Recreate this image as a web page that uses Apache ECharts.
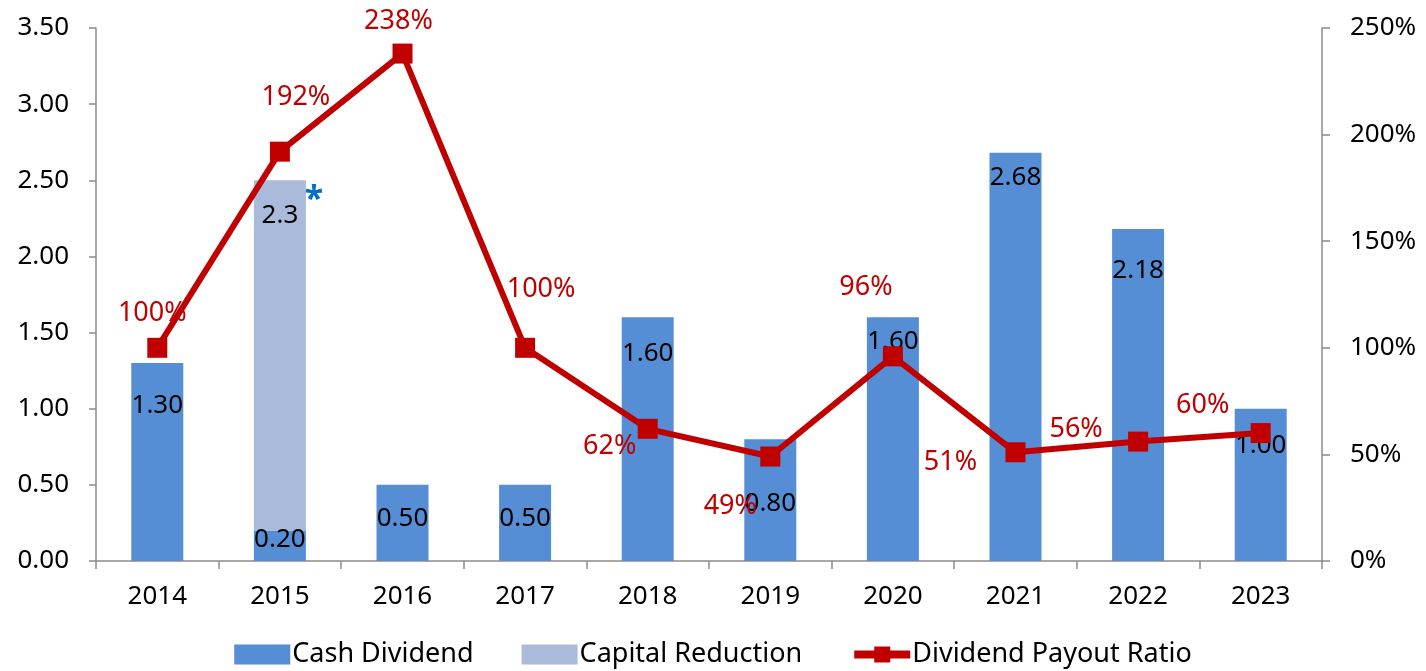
<!DOCTYPE html>
<html>
<head>
<meta charset="utf-8">
<script src="https://cdn.jsdelivr.net/npm/echarts@6/dist/echarts.min.js"></script>
<style>
  html, body { margin: 0; padding: 0; background: #fff; }
  #chart { width: 1426px; height: 671px; }
</style>
</head>
<body>
<div id="chart"></div>
<script>
const years = ["2014", "2015", "2016", "2017", "2018", "2019", "2020", "2021", "2022", "2023"];
const cashDividend = [1.30, 0.20, 0.50, 0.50, 1.60, 0.80, 1.60, 2.68, 2.18, 1.00];
const capitalReduction = [null, 2.3, null, null, null, null, null, null, null, null];
const payoutRatio = [100, 192, 238, 100, 62, 49, 96, 51, 56, 60];

// how far below the bar top each value label sits (px)
const barLabelDrop = [43, 9, 34, 34, 36, 64, 24, 25, 42, 37];
// where each ratio label sits relative to its marker (px)
const ratioLabelOffset = [[-5, -34], [16, -54], [-4, -32], [16, -58], [-38, 17],
  [-40, 50], [-27, -69], [-65, 10], [-62, -12], [-58, -28]];

const font = "'Noto Sans', 'DejaVu Sans', sans-serif";
const axisGrey = "#8c8c8c";
const red = "#C00000";

const chart = echarts.init(document.getElementById("chart"));

const option = {
  animation: false,
  textStyle: { fontFamily: font },
  grid: { left: 96, right: 104, top: 28, bottom: 110, containLabel: false },
  legend: {
    top: 636,
    left: "center",
    itemWidth: 56,
    itemHeight: 20,
    itemGap: 48,
    textStyle: { fontSize: 27, color: "#000", fontFamily: font, padding: [0, 0, 0, -3] },
    data: [
      { name: "Cash Dividend", icon: "rect" },
      { name: "Capital Reduction", icon: "rect" },
      { name: "Dividend Payout Ratio", lineStyle: { width: 8 } }
    ]
  },
  xAxis: {
    type: "category",
    data: years,
    axisLine: { lineStyle: { color: axisGrey, width: 1.5 } },
    axisTick: { show: true, inside: false, length: 8, lineStyle: { color: axisGrey, width: 1.5 } },
    axisLabel: { fontSize: 26, color: "#000", margin: 23 },
    splitLine: { show: false }
  },
  yAxis: [
    {
      type: "value",
      min: 0,
      max: 3.5,
      interval: 0.5,
      axisLine: { show: true, lineStyle: { color: axisGrey, width: 1.5 } },
      axisTick: { show: true, length: 7, lineStyle: { color: axisGrey, width: 1.5 } },
      axisLabel: { fontSize: 26, color: "#000", margin: 27, formatter: (v) => v.toFixed(2) },
      splitLine: { show: false }
    },
    {
      type: "value",
      min: 0,
      max: 250,
      interval: 50,
      position: "right",
      axisLine: { show: true, lineStyle: { color: axisGrey, width: 1.5 } },
      axisTick: { show: true, length: 8, lineStyle: { color: axisGrey, width: 1.5 } },
      axisLabel: { fontSize: 26, color: "#000", margin: 28, formatter: "{value}%" },
      splitLine: { show: false }
    }
  ],
  series: [
    {
      name: "Cash Dividend",
      type: "bar",
      stack: "div",
      barWidth: 52,
      itemStyle: { color: "#558ED5" },
      data: cashDividend.map((v, i) => ({
        value: v,
        label: {
          show: true,
          position: ["50%", barLabelDrop[i]],
          align: "center",
          verticalAlign: "middle",
          fontSize: 26,
          color: "#000",
          formatter: (p) => p.value.toFixed(2)
        }
      }))
    },
    {
      name: "Capital Reduction",
      type: "bar",
      stack: "div",
      barWidth: 52,
      itemStyle: { color: "#A9BADB" },
      data: capitalReduction.map((v, i) => ({
        value: v,
        label: {
          show: v != null,
          position: ["50%", 35],
          align: "center",
          verticalAlign: "middle",
          fontSize: 26,
          color: "#000",
          formatter: (p) => String(p.value)
        }
      })),
      markPoint: {
        symbol: "circle",
        symbolSize: 0,
        silent: true,
        data: [{ coord: [1, 2.5], value: "*" }],
        label: {
          show: true,
          formatter: "*",
          fontSize: 34,
          fontWeight: "bold",
          color: "#0070C0",
          offset: [34, 20]
        }
      }
    },
    {
      name: "Dividend Payout Ratio",
      type: "line",
      yAxisIndex: 1,
      z: 5,
      symbol: "rect",
      symbolSize: 20,
      lineStyle: { color: red, width: 6 },
      itemStyle: { color: red },
      data: payoutRatio.map((v, i) => ({
        value: v,
        label: {
          show: true,
          position: "inside",
          offset: ratioLabelOffset[i],
          fontSize: 27,
          color: red,
          formatter: (p) => p.value + "%"
        }
      }))
    }
  ]
};

chart.setOption(option);
</script>
</body>
</html>
